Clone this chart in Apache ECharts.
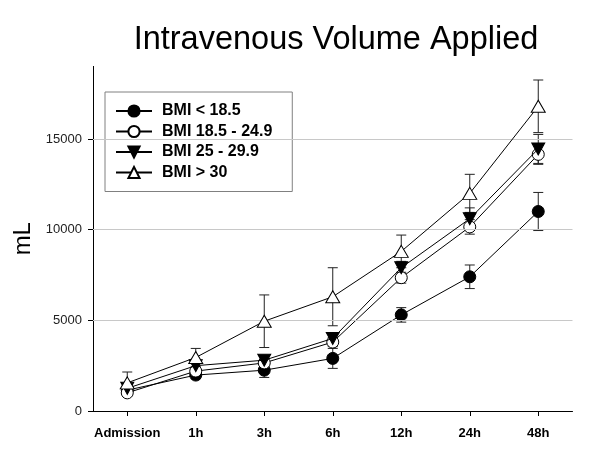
<!DOCTYPE html>
<html>
<head>
<meta charset="utf-8">
<script src="https://cdn.jsdelivr.net/npm/echarts@6/dist/echarts.min.js"></script>
<style>html,body{margin:0;padding:0;background:#fff;}#c{width:600px;height:463px;}</style>
</head>
<body>
<div id="c"></div>
<script>
var categories = ['Admission', '1h', '3h', '6h', '12h', '24h', '48h'];
var seriesNames = ['BMI < 18.5', 'BMI 18.5 - 24.9', 'BMI 25 - 29.9', 'BMI > 30'];
var bmiUnder185 = [1150, 1980, 2250, 2900, 5300, 7400, 11000];
var bmi185to249 = [1000, 2200, 2650, 3800, 7350, 10150, 14150];
var bmi25to299 = [1250, 2500, 2800, 4000, 7900, 10600, 14450];
var bmiOver30 = [1550, 2950, 4950, 6300, 8800, 12000, 16800];
var errUnder185 = [200, 200, 400, 550, 400, 650, 1050];
var err185to249 = [150, 150, 200, 250, 300, 400, 550];
var err25to299 = [200, 200, 200, 300, 350, 600, 800];
var errOver30 = [600, 500, 1450, 1600, 900, 1050, 1450];
var yTicks = [0, 5000, 10000, 15000];
var yMax = 19000;

var FONT = '"Liberation Sans", Arial, sans-serif';
var values = [bmiUnder185, bmi185to249, bmi25to299, bmiOver30];
var errors = [errUnder185, err185to249, err25to299, errOver30];
var symbols = ['circle', 'circle', 'triangle', 'triangle'];
var rotates = [0, 0, 180, 0];
var fills = ['#000', '#fff', '#000', '#fff'];
var sizes = [12, 12, [13, 12], [14, 12]];

function errorRender(params, api) {
  var x = api.value(0);
  var lo = api.coord([x, api.value(1)]);
  var hi = api.coord([x, api.value(2)]);
  var hw = 5;
  var st = {stroke: '#222', lineWidth: 1};
  return {
    type: 'group',
    children: [
      {type: 'line', shape: {x1: lo[0], y1: lo[1], x2: hi[0], y2: hi[1]}, style: st},
      {type: 'line', shape: {x1: lo[0] - hw, y1: lo[1], x2: lo[0] + hw, y2: lo[1]}, style: st},
      {type: 'line', shape: {x1: hi[0] - hw, y1: hi[1], x2: hi[0] + hw, y2: hi[1]}, style: st}
    ]
  };
}

var series = [];
values.forEach(function (vals, i) {
  series.push({
    type: 'custom',
    renderItem: errorRender,
    silent: true,
    z: 1,
    encode: {x: 0, y: [1, 2]},
    data: vals.map(function (v, k) { return [k, v - errors[i][k], v + errors[i][k]]; })
  });
});
values.forEach(function (vals, i) {
  var s = {
    name: seriesNames[i],
    type: 'line',
    z: 3 + i,
    data: vals,
    symbol: symbols[i],
    symbolSize: sizes[i],
    symbolRotate: rotates[i],
    showAllSymbol: true,
    lineStyle: {color: '#000', width: 1},
    itemStyle: {color: fills[i], borderColor: '#000', borderWidth: 1},
    emphasis: {disabled: true},
    animation: false
  };
  if (i === 0) {
    s.markLine = {
      silent: true,
      symbol: 'none',
      label: {show: false},
      lineStyle: {color: '#c8c8c8', width: 1, type: 'solid'},
      data: [{yAxis: 5000}, {yAxis: 10000}, {yAxis: 15000}],
      animation: false
    };
  }
  series.push(s);
});

var chart = echarts.init(document.getElementById('c'), null, {renderer: 'canvas'});
chart.setOption({
  animation: false,
  backgroundColor: '#fff',
  title: {
    text: 'Intravenous Volume Applied',
    left: 331,
    textAlign: 'center',
    top: 19,
    textStyle: {fontFamily: FONT, fontSize: 32.5, fontWeight: 'normal', color: '#000'}
  },
  legend: {
    orient: 'vertical',
    left: 105,
    top: 92,
    padding: [11, 20, 11, 10],
    itemWidth: 36,
    itemHeight: 14,
    itemGap: 4.5,
    borderColor: '#808080',
    borderWidth: 1,
    data: seriesNames,
    textStyle: {fontFamily: FONT, fontSize: 16, fontWeight: 'bold', color: '#000', padding: [0, 0, 0, 5]}
  },
  grid: {left: 93, right: 27.5, top: 66.4, bottom: 52},
  xAxis: {
    type: 'category',
    data: categories,
    boundaryGap: true,
    axisLine: {lineStyle: {color: '#000', width: 1}},
    axisTick: {show: true, alignWithLabel: true, inside: false, length: 5, lineStyle: {color: '#000'}},
    axisLabel: {fontFamily: FONT, fontSize: 13, fontWeight: 'bold', color: '#000', margin: 16, interval: 0},
    splitLine: {show: false}
  },
  yAxis: {
    type: 'value',
    min: 0,
    max: yMax,
    interval: 5000,
    name: 'mL',
    nameLocation: 'middle',
    nameRotate: 90,
    nameGap: 42,
    nameTextStyle: {fontFamily: FONT, fontSize: 24, color: '#000'},
    axisLine: {show: true, lineStyle: {color: '#000', width: 1}},
    axisTick: {show: true, inside: false, length: 5, lineStyle: {color: '#000'}, customValues: yTicks},
    axisLabel: {fontFamily: FONT, fontSize: 13, color: '#222', margin: 11, customValues: yTicks,
      formatter: function (v) { return String(v); }},
    splitLine: {show: false}
  },
  series: series
});
</script>
</body>
</html>
